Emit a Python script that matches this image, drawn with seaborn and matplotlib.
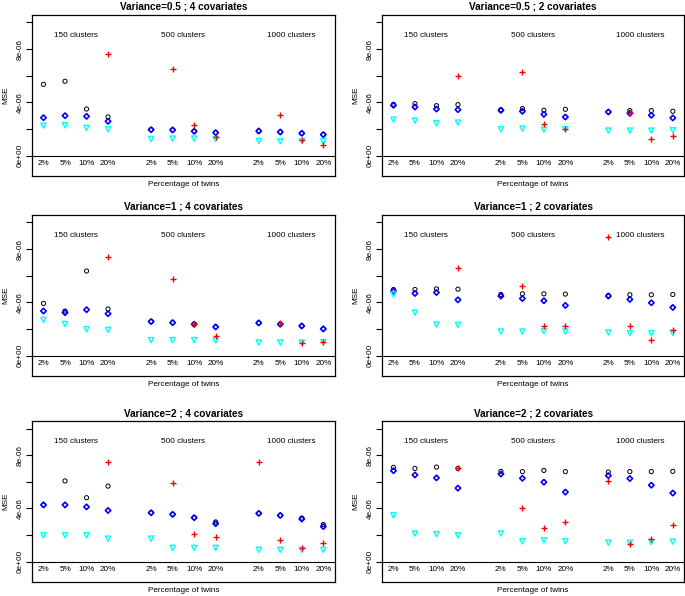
import numpy as np
import pandas as pd
import matplotlib
matplotlib.use('Agg')
import matplotlib.pyplot as plt
import seaborn as sns

plt.rcParams['font.family'] = ['Liberation Sans', 'DejaVu Sans']

nan = np.nan

# x layout: three groups of four twin percentages, one gap between groups
twins = ['2%', '5%', '10%', '20%'] * 3
xpos = [1, 2, 3, 4, 6, 7, 8, 9, 11, 12, 13, 14]
clusters = ['150 clusters', '500 clusters', '1000 clusters']
cluster_x = [2.5, 7.5, 12.5]

titles = ['Variance=0.5 ; 4 covariates', 'Variance=0.5 ; 2 covariates',
          'Variance=1 ; 4 covariates', 'Variance=1 ; 2 covariates',
          'Variance=2 ; 4 covariates', 'Variance=2 ; 2 covariates']

# MSE values, in units of 1e-06
v05_4_black = [5.35, 5.58, 3.5, 2.9, 1.95, 1.93, 1.83, 1.73, 1.85, 1.78, 1.68, 1.58]
v05_4_blue = [2.85, 3.0, 2.95, 2.58, 1.95, 1.93, 1.83, 1.73, 1.85, 1.78, 1.68, 1.58]
v05_4_red = [nan, nan, nan, 7.6, nan, 6.48, 2.33, 1.38, nan, 3.05, 1.2, 0.78]
v05_4_cyan = [2.25, 2.28, 2.08, 1.98, 1.25, 1.28, 1.28, 1.25, 1.1, 1.08, 1.08, 1.08]

v05_2_black = [3.85, 3.9, 3.75, 3.83, 3.45, 3.53, 3.4, 3.48, 3.28, 3.38, 3.38, 3.33]
v05_2_blue = [3.78, 3.65, 3.5, 3.45, 3.4, 3.33, 3.1, 2.9, 3.28, 3.18, 3.03, 2.83]
v05_2_red = [nan, nan, nan, 5.95, nan, 6.25, 2.38, 1.98, nan, 3.23, 1.28, 1.48]
v05_2_cyan = [2.7, 2.63, 2.43, 2.48, 1.98, 2.03, 1.95, 1.98, 1.88, 1.88, 1.88, 1.9]

v1_4_black = [3.92, 3.35, 6.35, 3.5, 2.56, 2.48, 2.36, 2.16, 2.46, 2.36, 2.23, 2.01]
v1_4_blue = [3.35, 3.23, 3.45, 3.15, 2.56, 2.48, 2.36, 2.16, 2.46, 2.36, 2.23, 2.01]
v1_4_red = [nan, nan, nan, 7.42, nan, 5.78, 2.36, 1.49, nan, 2.48, 0.94, 0.99]
v1_4_cyan = [2.68, 2.38, 1.99, 1.94, 1.17, 1.17, 1.17, 1.14, 0.99, 0.99, 0.99, 1.02]

v1_2_black = [4.96, 4.96, 5.01, 4.99, 4.59, 4.64, 4.64, 4.62, 4.52, 4.57, 4.57, 4.59]
v1_2_blue = [4.84, 4.67, 4.74, 4.19, 4.47, 4.29, 4.12, 3.77, 4.47, 4.22, 3.97, 3.62]
v1_2_red = [nan, nan, nan, 6.55, nan, 5.26, 2.26, 2.23, 8.91, 2.21, 1.17, 1.91]
v1_2_cyan = [4.59, 3.23, 2.33, 2.31, 1.81, 1.81, 1.84, 1.81, 1.74, 1.69, 1.69, 1.71]

v2_4_black = [4.27, 6.07, 4.81, 5.68, 3.68, 3.56, 3.31, 2.99, 3.63, 3.48, 3.28, 2.79]
v2_4_blue = [4.27, 4.27, 4.12, 3.85, 3.68, 3.56, 3.31, 2.86, 3.63, 3.48, 3.21, 2.64]
v2_4_red = [nan, nan, nan, 7.48, nan, 5.93, 2.12, 1.83, 7.48, 1.65, 1.01, 1.41]
v2_4_cyan = [1.98, 1.98, 1.98, 1.73, 1.73, 1.04, 1.04, 1.04, 0.89, 0.89, 0.89, 0.89]

v2_2_black = [7.09, 7.01, 7.11, 7.01, 6.79, 6.77, 6.86, 6.77, 6.74, 6.77, 6.77, 6.79]
v2_2_blue = [6.84, 6.52, 6.3, 5.53, 6.59, 6.27, 5.98, 5.23, 6.47, 6.25, 5.75, 5.16]
v2_2_red = [nan, nan, nan, 7.01, nan, 4.07, 2.52, 2.96, 6.05, 1.36, 1.68, 2.77]
v2_2_cyan = [3.48, 2.12, 2.07, 1.98, 2.12, 1.53, 1.6, 1.53, 1.43, 1.43, 1.48, 1.51]

panels = [
    (v05_4_black, v05_4_blue, v05_4_red, v05_4_cyan),
    (v05_2_black, v05_2_blue, v05_2_red, v05_2_cyan),
    (v1_4_black, v1_4_blue, v1_4_red, v1_4_cyan),
    (v1_2_black, v1_2_blue, v1_2_red, v1_2_cyan),
    (v2_4_black, v2_4_blue, v2_4_red, v2_4_cyan),
    (v2_2_black, v2_2_blue, v2_2_red, v2_2_cyan),
]

# axes boxes in pixels
W, H = 685, 596
col_px = [(32.3, 334.5), (382.3, 684.0)]
row_px = [(15.0, 175.7), (215.0, 375.7), (421.3, 581.7)]
fs = 5.9

fig = plt.figure(figsize=(W / 100, H / 100), dpi=100)

for i, (title, series) in enumerate(zip(titles, panels)):
    l, r = col_px[i % 2]
    t, b = row_px[i // 2]
    ax = fig.add_axes([l / W, 1 - b / H, (r - l) / W, (b - t) / H])

    black, blue, red, cyan = series
    df = pd.DataFrame({'x': xpos, 'black': np.array(black) * 1e-6,
                       'blue': np.array(blue) * 1e-6, 'red': np.array(red) * 1e-6,
                       'cyan': np.array(cyan) * 1e-6})

    ax.axhline(0, color='black', lw=0.8, zorder=1)
    sns.scatterplot(data=df, x='x', y='black', ax=ax, marker='o', s=9, color='black',
                    facecolors='none', edgecolor='black', linewidth=0.7, legend=False, zorder=3)
    sns.scatterplot(data=df, x='x', y='blue', ax=ax, marker='D', s=7.5, color='blue',
                    facecolors='none', edgecolor='blue', linewidth=1.2, legend=False, zorder=4)
    sns.scatterplot(data=df, x='x', y='cyan', ax=ax, marker='v', s=14, color='cyan',
                    facecolors='none', edgecolor='cyan', linewidth=1.0, legend=False, zorder=5)
    sns.scatterplot(data=df.dropna(subset=['red']), x='x', y='red', ax=ax, marker='+', s=22,
                    color='red', linewidth=1.0, legend=False, zorder=6)

    for x, lab in zip(xpos, twins):
        ax.text(x, -0.6e-6, lab, ha='center', va='center', fontsize=fs)
    for x, lab in zip(cluster_x, clusters):
        ax.text(x, 9.0e-6, lab, ha='center', va='center', fontsize=fs)

    ax.set_xlim(0.48, 14.52)
    ax.set_ylim(-1.5e-6, 10.55e-6)
    ax.set_xticks([])
    ax.set_yticks([0, 2e-6, 4e-6, 6e-6, 8e-6, 10e-6])
    ax.set_yticklabels(['0e+00', '', '4e-06', '', '8e-06', ''])
    ax.tick_params(axis='y', length=4, width=0.8, labelsize=fs, pad=2.2)
    plt.setp(ax.get_yticklabels(), rotation=90, va='center')
    for sp in ax.spines.values():
        sp.set_linewidth(0.9)
        sp.set_color('black')

    ax.set_title(title, fontsize=7.2, fontweight='bold', pad=3.8)
    ax.set_xlabel('Percentage of twins', fontsize=fs, labelpad=4)
    ax.set_ylabel('MSE', fontsize=fs)
    ax.yaxis.set_label_coords(-23.0 / (r - l), 0.5)

fig.savefig('out.png', dpi=100)
